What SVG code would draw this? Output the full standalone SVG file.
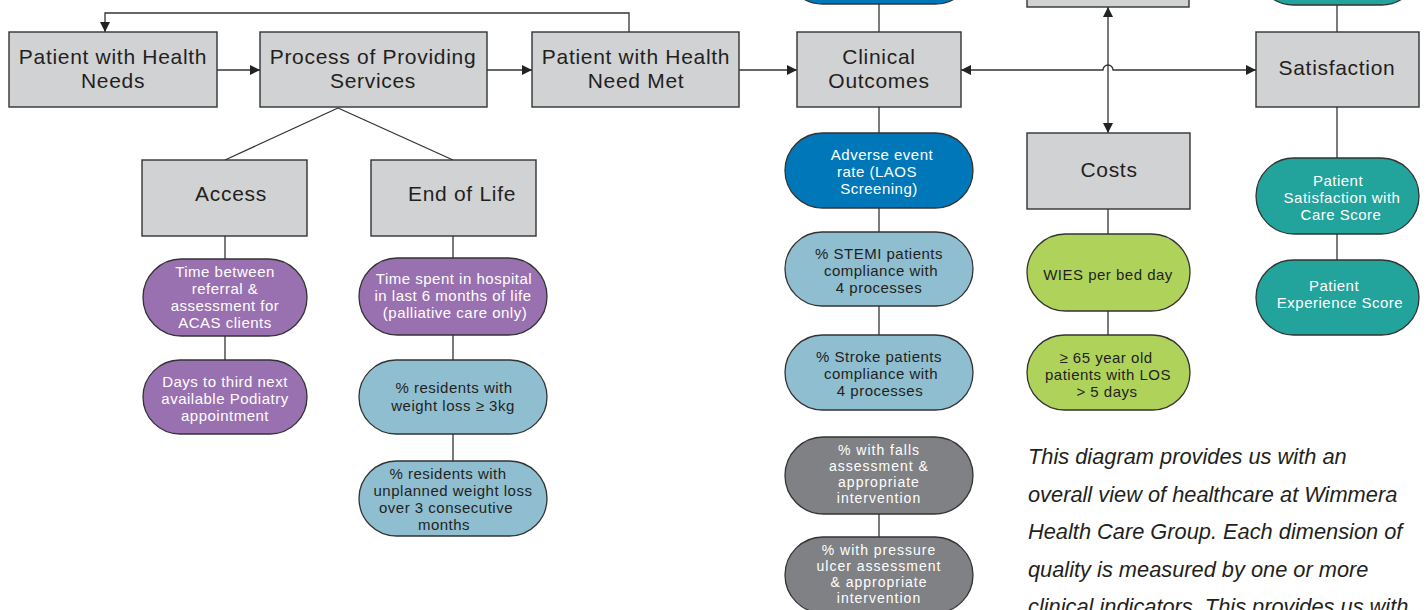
<svg xmlns="http://www.w3.org/2000/svg" width="1428" height="610" viewBox="0 0 1428 610">
  <defs>
    <marker id="arr" viewBox="0 0 10 10" refX="10" refY="5" markerWidth="10" markerHeight="10" markerUnits="userSpaceOnUse" orient="auto-start-reverse">
      <path d="M0,0 L10,5 L0,10 Z" fill="#222"/>
    </marker>
    <style>
      .box { fill: #d1d2d4; stroke: #333; stroke-width: 1.4; }
      .pill { stroke: #333; stroke-width: 1.3; }
      .purple { fill: #9a71b0; }
      .lblue { fill: #8fbed1; }
      .dblue { fill: #0077b8; }
      .dgray { fill: #7f8184; }
      .green { fill: #afd35a; }
      .teal { fill: #22a39b; }
      .bt { font-family: "Liberation Sans", Arial, sans-serif; font-size: 21px; letter-spacing: 0.7px; fill: #231f20; text-anchor: middle; }
      .pt { font-family: "Liberation Sans", Arial, sans-serif; font-size: 15px; letter-spacing: 0.5px; text-anchor: middle; }
      .st { font-size: 14px; letter-spacing: 1px; }
      .w { fill: #ffffff; }
      .k { fill: #231f20; }
      .conn { stroke: #333; stroke-width: 1.3; fill: none; }
      .note { font-family: "Liberation Sans", Arial, sans-serif; font-style: italic; font-size: 21.8px; fill: #231f20; }
    </style>
  </defs>

  <rect width="1428" height="610" fill="#ffffff"/>

  <!-- connectors -->
  <g id="connectors">
    <polyline class="conn" points="629,32 629,13 105,13 105,32" marker-end="url(#arr)"/>
    <line class="conn" x1="217" y1="70" x2="260" y2="70" marker-end="url(#arr)"/>
    <line class="conn" x1="487" y1="70" x2="532" y2="70" marker-end="url(#arr)"/>
    <line class="conn" x1="739" y1="70" x2="797" y2="70" marker-end="url(#arr)"/>
    <!-- two-way link with a hop over the costs axis -->
    <path class="conn" d="M961,70 H1103 A5,5 0 0 1 1113,70 H1256" marker-start="url(#arr)" marker-end="url(#arr)"/>
    <line class="conn" x1="1108" y1="7" x2="1108" y2="133" marker-start="url(#arr)" marker-end="url(#arr)"/>
    <!-- process branches -->
    <line class="conn" x1="338" y1="108" x2="225" y2="160"/>
    <line class="conn" x1="338" y1="108" x2="453" y2="160"/>
    <line class="conn" x1="225" y1="236" x2="225" y2="360"/>
    <line class="conn" x1="453" y1="236" x2="453" y2="461"/>
    <!-- clinical outcomes column -->
    <line class="conn" x1="879" y1="4" x2="879" y2="32"/>
    <line class="conn" x1="879" y1="107" x2="879" y2="335"/>
    <line class="conn" x1="879" y1="514" x2="879" y2="537"/>
    <!-- costs column -->
    <line class="conn" x1="1108" y1="209" x2="1108" y2="335"/>
    <!-- satisfaction column -->
    <line class="conn" x1="1337" y1="5" x2="1337" y2="32"/>
    <line class="conn" x1="1337" y1="107" x2="1337" y2="260"/>
  </g>

  <!-- top row -->
  <g id="patient-needs">
    <rect class="box" x="9" y="32" width="208" height="75"/>
    <text class="bt"><tspan x="113" y="64">Patient with Health</tspan><tspan x="113" y="88">Needs</tspan></text>
  </g>
  <g id="process">
    <rect class="box" x="260" y="32" width="227" height="75"/>
    <text class="bt"><tspan x="373" y="64">Process of Providing</tspan><tspan x="373" y="88">Services</tspan></text>
  </g>
  <g id="need-met">
    <rect class="box" x="532" y="32" width="207" height="75"/>
    <text class="bt"><tspan x="636" y="64">Patient with Health</tspan><tspan x="636" y="88">Need Met</tspan></text>
  </g>
  <g id="clinical-outcomes">
    <rect class="box" x="797" y="32" width="164" height="75"/>
    <text class="bt"><tspan x="879" y="64">Clinical</tspan><tspan x="879" y="88">Outcomes</tspan></text>
  </g>
  <g id="satisfaction">
    <rect class="box" x="1256" y="32" width="163" height="75"/>
    <text class="bt" x="1337" y="75">Satisfaction</text>
  </g>
  <g id="top-box">
    <rect class="box" x="1027" y="-70" width="162" height="77"/>
  </g>
  <g id="top-clinical-pill">
    <rect class="pill dblue" x="785" y="-71" width="188" height="75" rx="37.5"/>
  </g>
  <g id="top-satisfaction-pill">
    <rect class="pill teal" x="1256" y="-70" width="163" height="75" rx="37.5"/>
  </g>

  <!-- access -->
  <g id="access">
    <rect class="box" x="142" y="160" width="165" height="76"/>
    <text class="bt" x="231" y="201">Access</text>
  </g>
  <g id="access-referral">
    <rect class="pill purple" x="143" y="259" width="164" height="77" rx="38.5"/>
    <text class="pt w"><tspan x="225" y="277">Time between</tspan><tspan x="225" y="294">referral &amp;</tspan><tspan x="225" y="311">assessment for</tspan><tspan x="225" y="328">ACAS clients</tspan></text>
  </g>
  <g id="access-podiatry">
    <rect class="pill purple" x="143" y="360" width="164" height="74" rx="37"/>
    <text class="pt w"><tspan x="225" y="387">Days to third next</tspan><tspan x="225" y="404">available Podiatry</tspan><tspan x="225" y="421">appointment</tspan></text>
  </g>

  <!-- end of life -->
  <g id="end-of-life">
    <rect class="box" x="371" y="160" width="165" height="76"/>
    <text class="bt" x="462" y="201">End of Life</text>
  </g>
  <g id="eol-hospital-time">
    <rect class="pill purple" x="359" y="258" width="188" height="77" rx="38.5"/>
    <text class="pt w"><tspan x="454" y="284">Time spent in hospital</tspan><tspan x="453" y="301">in last 6 months of life</tspan><tspan x="455" y="318">(palliative care only)</tspan></text>
  </g>
  <g id="eol-weight-loss">
    <rect class="pill lblue" x="359" y="360" width="188" height="74" rx="37"/>
    <text class="pt k"><tspan x="454" y="393">% residents with</tspan><tspan x="453" y="411">weight loss ≥ 3kg</tspan></text>
  </g>
  <g id="eol-unplanned-loss">
    <rect class="pill lblue" x="359" y="461" width="188" height="75" rx="37.5"/>
    <text class="pt k"><tspan x="448" y="479">% residents with</tspan><tspan x="453" y="496">unplanned weight loss</tspan><tspan x="446" y="513">over 3 consecutive</tspan><tspan x="444" y="530">months</tspan></text>
  </g>

  <!-- clinical indicators -->
  <g id="adverse-event">
    <rect class="pill dblue" x="785" y="133" width="188" height="75" rx="37.5"/>
    <text class="pt w"><tspan x="882" y="160">Adverse event</tspan><tspan x="877" y="177">rate (LAOS</tspan><tspan x="879" y="194">Screening)</tspan></text>
  </g>
  <g id="stemi">
    <rect class="pill lblue" x="785" y="232" width="188" height="74" rx="37"/>
    <text class="pt k"><tspan x="879" y="259">% STEMI patients</tspan><tspan x="881" y="276">compliance with</tspan><tspan x="879" y="293">4 processes</tspan></text>
  </g>
  <g id="stroke">
    <rect class="pill lblue" x="785" y="335" width="188" height="75" rx="37.5"/>
    <text class="pt k"><tspan x="879" y="362">% Stroke patients</tspan><tspan x="881" y="379">compliance with</tspan><tspan x="880" y="396">4 processes</tspan></text>
  </g>
  <g id="falls">
    <rect class="pill dgray" x="785" y="437" width="188" height="77" rx="38.5"/>
    <text class="pt st w"><tspan x="879" y="455">% with falls</tspan><tspan x="879" y="471">assessment &amp;</tspan><tspan x="879" y="487">appropriate</tspan><tspan x="879" y="503">intervention</tspan></text>
  </g>
  <g id="pressure-ulcer">
    <rect class="pill dgray" x="785" y="537" width="188" height="76" rx="38"/>
    <text class="pt st w"><tspan x="879" y="555">% with pressure</tspan><tspan x="879" y="571">ulcer assessment</tspan><tspan x="879" y="587">&amp; appropriate</tspan><tspan x="879" y="603">intervention</tspan></text>
  </g>

  <!-- costs -->
  <g id="costs">
    <rect class="box" x="1027" y="133" width="163" height="76"/>
    <text class="bt" x="1109" y="177">Costs</text>
  </g>
  <g id="wies">
    <rect class="pill green" x="1027" y="234" width="163" height="77" rx="38.5"/>
    <text class="pt k" x="1108" y="280">WIES per bed day</text>
  </g>
  <g id="los">
    <rect class="pill green" x="1027" y="335" width="163" height="75" rx="37.5"/>
    <text class="pt k"><tspan x="1106" y="363">≥ 65 year old</tspan><tspan x="1108" y="380">patients with LOS</tspan><tspan x="1107" y="397">&gt; 5 days</tspan></text>
  </g>

  <!-- satisfaction indicators -->
  <g id="care-score">
    <rect class="pill teal" x="1256" y="158" width="163" height="76" rx="38"/>
    <text class="pt w"><tspan x="1338" y="186">Patient</tspan><tspan x="1342" y="203">Satisfaction with</tspan><tspan x="1341" y="220">Care Score</tspan></text>
  </g>
  <g id="experience-score">
    <rect class="pill teal" x="1256" y="260" width="163" height="75" rx="37.5"/>
    <text class="pt w"><tspan x="1334" y="291">Patient</tspan><tspan x="1340" y="308">Experience Score</tspan></text>
  </g>

  <!-- explanatory note -->
  <g id="note">
    <text class="note"><tspan x="1028" y="464">This diagram provides us with an</tspan><tspan x="1028" y="502">overall view of healthcare at Wimmera</tspan><tspan x="1028" y="539">Health Care Group. Each dimension of</tspan><tspan x="1028" y="577">quality is measured by one or more</tspan><tspan x="1028" y="614">clinical indicators. This provides us with</tspan></text>
  </g>
</svg>
